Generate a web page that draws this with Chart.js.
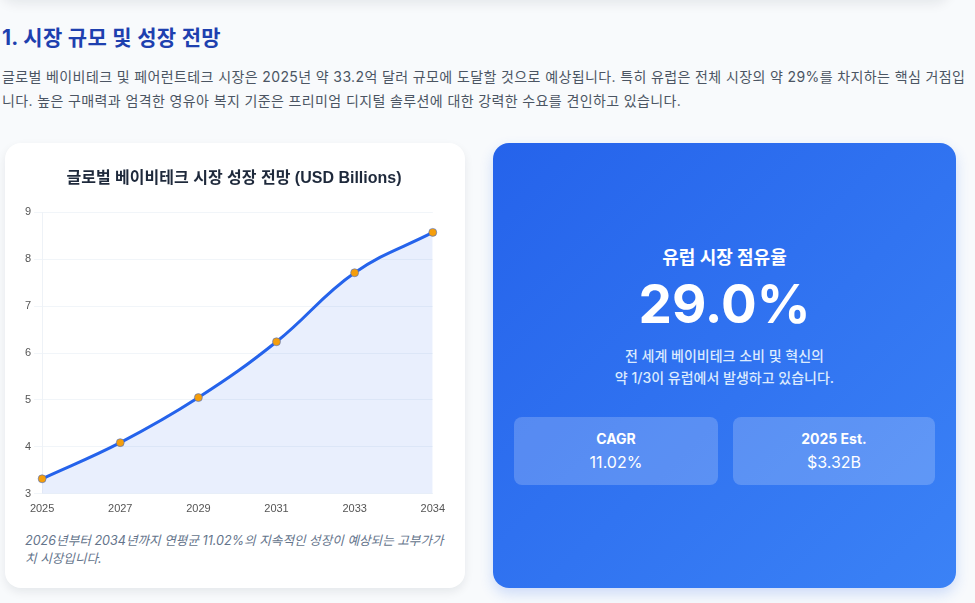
<!DOCTYPE html>
<html lang="ko">
<head>
<meta charset="utf-8">
<script src="https://cdn.jsdelivr.net/npm/chart.js@4.4.1/dist/chart.umd.min.js"></script>
<style>
  html,body{margin:0;padding:0;}
  body{width:975px;height:603px;background:#f8fafc;position:relative;overflow:hidden;font-family:Inter,"Noto Sans CJK KR",sans-serif;}
  .topcard{position:absolute;left:0;top:-100px;width:950px;height:100px;background:#fff;border-radius:16px;box-shadow:0 4px 12px rgba(15,23,42,0.08);}
  h2{position:absolute;left:2px;top:24px;margin:0;font-size:21px;line-height:28px;font-weight:700;color:#1e40af;letter-spacing:0.3px;}
  p.intro{position:absolute;left:2px;top:65px;width:975px;margin:0;font-size:14px;line-height:24px;color:#4b5563;letter-spacing:0.38px;}
  .card{position:absolute;left:5px;top:143px;width:460px;height:445px;background:#fff;border-radius:16px;box-shadow:0 4px 10px rgba(15,23,42,0.08);}
  .chartbox{position:absolute;left:17px;top:20px;width:424px;height:354px;}
  .caption{position:absolute;left:20px;top:389px;width:425px;margin:0;font-size:12.6px;line-height:18px;font-style:italic;color:#64748b;}
  .blue{position:absolute;left:493px;top:143px;width:463px;height:445px;border-radius:16px;background:linear-gradient(135deg,#2563eb 0%,#3b82f6 100%);box-shadow:0 6px 14px rgba(37,99,235,0.2);color:#fff;text-align:center;}
  .blue .t1{position:absolute;left:0;right:0;top:102px;font-size:18px;line-height:26px;font-weight:700;}
  .blue .big{position:absolute;left:0;right:0;top:128px;font-size:53px;line-height:66px;font-weight:700;}
  .blue .desc{position:absolute;left:0;right:0;top:202px;font-size:14px;line-height:22px;color:#dbeafe;font-weight:500;}
  .stat{position:absolute;top:274px;width:204px;height:68px;border-radius:8px;background:rgba(255,255,255,0.2);}
  .stat .l{position:absolute;left:0;right:0;top:12px;font-size:14px;line-height:20px;font-weight:700;}
  .stat .v{position:absolute;left:0;right:0;top:34px;font-size:16px;line-height:22px;font-weight:400;}
</style>
</head>
<body>
<div class="topcard"></div>
<h2>1. 시장 규모 및 성장 전망</h2>
<p class="intro">글로벌 베이비테크 및 페어런트테크 시장은 2025년 약 33.2억 달러 규모에 도달할 것으로 예상됩니다. 특히 유럽은 전체 시장의 약 29%를 차지하는 핵심 거점입니다. 높은 구매력과 엄격한 영유아 복지 기준은 프리미엄 디지털 솔루션에 대한 강력한 수요를 견인하고 있습니다.</p>

<div class="card">
  <div class="chartbox"><canvas id="c"></canvas></div>
  <p class="caption">2026년부터 2034년까지 연평균 11.02%의 지속적인 성장이 예상되는 고부가가치 시장입니다.</p>
</div>

<div class="blue">
  <div class="t1">유럽 시장 점유율</div>
  <div class="big">29.0%</div>
  <div class="desc">전 세계 베이비테크 소비 및 혁신의<br>약 1/3이 유럽에서 발생하고 있습니다.</div>
  <div class="stat" style="left:21px;"><div class="l">CAGR</div><div class="v">11.02%</div></div>
  <div class="stat" style="left:240px;width:202px;"><div class="l">2025 Est.</div><div class="v">$3.32B</div></div>
</div>

<script>
const years = ["2025", "2027", "2029", "2031", "2033", "2034"];
const marketSize = [3.32, 4.09, 5.05, 6.24, 7.71, 8.57];
const chartTitle = "글로벌 베이비테크 시장 성장 전망 (USD Billions)";
const seriesLabel = "Market Size (USD Billions)";
const yMin = 3;
const yMax = 9;

const baseFont = "'Helvetica Neue', Helvetica, Arial, 'Noto Sans CJK KR', sans-serif";
new Chart(document.getElementById('c'), {
  type: 'line',
  data: {
    labels: years,
    datasets: [{
      label: seriesLabel,
      data: marketSize,
      borderColor: '#2563eb',
      backgroundColor: 'rgba(37,99,235,0.1)',
      borderWidth: 3,
      fill: true,
      tension: 0.4,
      pointRadius: 4,
      pointBackgroundColor: '#f59e0b',
      pointBorderColor: 'rgba(37,99,235,0.5)',
      pointBorderWidth: 1
    }]
  },
  options: {
    responsive: true,
    maintainAspectRatio: false,
    animation: false,
    layout: { padding: { left: 0, right: 0, top: 0, bottom: 0 } },
    plugins: {
      legend: { display: false },
      title: {
        display: true,
        text: chartTitle,
        color: '#1e293b',
        font: { size: 16, weight: 'bold', family: baseFont },
        padding: { top: 6, bottom: 24 }
      },
      tooltip: { enabled: false }
    },
    scales: {
      x: {
        grid: { display: false },
        border: { display: true, color: '#f1f5f9' },
        ticks: { color: '#555', padding: 1, font: { size: 11, family: baseFont }, maxRotation: 0 }
      },
      y: {
        min: yMin,
        max: yMax,
        grid: { color: '#f1f5f9' },
        border: { display: true, color: '#eef2f7' },
        ticks: { stepSize: 1, color: '#555', font: { size: 11, family: baseFont } }
      }
    }
  }
});
</script>
</body>
</html>
